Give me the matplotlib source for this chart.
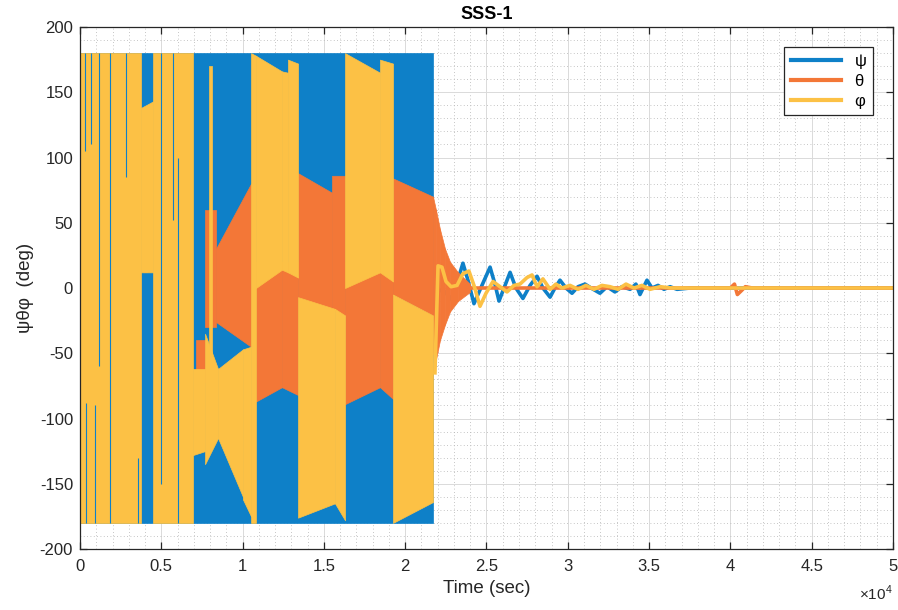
import matplotlib
matplotlib.use("Agg")
from matplotlib import pyplot as plt
from matplotlib.lines import Line2D
import numpy as np

plt.rcParams["font.family"] = ["Liberation Sans", "DejaVu Sans"]
plt.rcParams["mathtext.fontset"] = "custom"
plt.rcParams["mathtext.rm"] = "Liberation Sans"
plt.rcParams["axes.unicode_minus"] = False

# dense (aliased) part of the run: filled bands (t_start, t_end, lo_start, lo_end, hi_start, hi_end)
psi_bands = [
    (0, 21710, -180, -180, 180, 180),
]
theta_bands = [
    (3960, 4150, 12, 12, 35, 35),
    (7130, 7690, -72, -72, -40, -40),
    (7690, 8360, -30, -30, 60, 60),
    (8360, 10520, -26, -45, 30, 80),
    (10820, 12420, -87, -76, 20, 20),
    (12420, 13410, -76, -82, 20, 20),
    (13410, 15500, -7, -16, 88, 73),
    (15500, 16300, -16, -21, 86, 86),
    (16300, 18450, -89, -76, 20, 20),
    (18450, 19250, -76, -85, 20, 20),
    (19250, 21710, -5, -21, 84, 70),
    (21710, 21890, -50, -55, 70, 60),
    (21890, 22140, -55, -40, 60, 45),
    (22140, 22450, -40, -28, 45, 30),
    (22450, 22760, -28, -18, 30, 20),
    (22760, 23250, -18, -10, 20, 12),
    (23250, 23990, -10, -3, 12, 3),
]
phi_bands = [
    (0, 3750, -180, -180, 180, 180),
    (3750, 4490, 12, 12, 138, 143),
    (4490, 6950, -180, -180, 180, 180),
    (6950, 7690, -128, -125, -62, -62),
    (7690, 8490, -135, -115, -35, -62),
    (7930, 8120, -100, -100, 170, 170),
    (8490, 10020, -115, -160, -62, -47),
    (10020, 10520, -162, -175, -47, -45),
    (10520, 10820, -180, -180, 180, 178),
    (10820, 12420, 0, 14, 178, 166),
    (12420, 12790, 14, 12, 166, 165),
    (12790, 13410, 12, 8, 175, 172),
    (13410, 15680, -176, -165, -7, -16),
    (15680, 16300, -165, -178, -16, -21),
    (16300, 18450, 0, 12, 180, 165),
    (18450, 19250, 12, 5, 175, 172),
    (19250, 21710, -180, -164, -5, -21),
]
# thin psi streaks showing through the phi bands (t, lo, hi)
psi_streaks = [
    (310, 105, 180), (370, -180, -88), (680, 110, 180), (920, -180, -90),
    (1170, -60, 180), (1850, -180, 180), (2830, 85, 180), (3570, -180, -130),
    (4980, -150, 180), (5720, 52, 180), (6030, -180, 100),
]

# settling part: plain lines
psi_t = [21710, 22450, 22880, 23190, 23550, 23860, 24230, 24720, 25220, 25520, 25770,
         26140, 26450, 26810, 27240, 27680, 28110, 28470, 28910, 29210, 29520, 29890,
         30260, 30630, 31060, 31430, 31980, 32410, 32900, 33330, 33830, 34190, 34440,
         34870, 35180, 35550, 35920, 36290, 36720, 37520, 50000]
psi_v = [0, -3, -9, 4, 19, 6, -12, 2, 16, 3, -10,
         2, 12, 0, -8, 2, 9, 0, -7, 0, 6, 0,
         -4, 1, 3, 0, -4, 1, -3, 1, -1, 3, -5,
         6, 0, 2, -1, 1, -1, 0, 0]
theta_t = [23990, 40000, 40250, 40430, 40680, 40920, 41350, 50000]
theta_v = [0, 0, 3, -5, -2, 1, 0, 0]
phi_t = [21830, 22020, 22260, 22510, 22820, 23190, 23550, 23920, 24230, 24600, 24970,
         25400, 25830, 26260, 26690, 27060, 27490, 27800, 28110, 28470, 28910, 29270,
         29640, 30140, 30630, 31120, 31610, 32100, 32600, 33090, 33580, 34070, 34560,
         35060, 35670, 36410, 50000]
phi_v = [-65, 17, 16, 5, 1, 2, 11, 13, 2, -14, -4,
         5, 1, -3, 2, 3, 8, 10, 1, 7, -1, 3,
         0, 2, -1, 2, -1, 2, 1, -1, 3, 0, 2,
         -1, 1, 0, 0]

c_psi = "#0E80C8"
c_theta = "#F37737"
c_phi = "#FCC145"

fig = plt.figure(figsize=(8.98, 6.10), dpi=100)
ax = fig.add_axes([0.0891, 0.1, 0.9053, 0.8557])


def draw_bands(bands, color):
    for t0, t1, lo0, lo1, hi0, hi1 in bands:
        ax.fill_between([t0, t1], [lo0, lo1], [hi0, hi1], facecolor=color,
                        edgecolor=color, lw=0.5, zorder=2)


draw_bands(psi_bands, c_psi)
ax.plot(psi_t, psi_v, color=c_psi, lw=2.6, zorder=2, solid_joinstyle="round")
draw_bands(theta_bands, c_theta)
ax.plot(theta_t, theta_v, color=c_theta, lw=2.6, zorder=2)
draw_bands(phi_bands, c_phi)
ax.plot(phi_t, phi_v, color=c_phi, lw=2.6, zorder=2, solid_joinstyle="round")
ax.vlines([s[0] for s in psi_streaks], [s[1] for s in psi_streaks],
          [s[2] for s in psi_streaks], color=c_psi, lw=0.8, zorder=2)

ax.set_xlim(0, 50000)
ax.set_ylim(-200, 200)
ax.set_xticks(np.arange(0, 50001, 5000))
ax.set_xticklabels(["0", "0.5", "1", "1.5", "2", "2.5", "3", "3.5", "4", "4.5", "5"])
ax.set_yticks(np.arange(-200, 201, 50))
ax.set_xticks(np.arange(0, 50001, 1000), minor=True)
ax.set_yticks(np.arange(-200, 201, 10), minor=True)

ax.set_axisbelow(True)
ax.grid(which="major", color="#dadada", lw=0.7, ls="-")
ax.grid(which="minor", color="#b3b3b3", lw=0.6, ls=(0, (1, 3)))

for s in ax.spines.values():
    s.set_color("#262626")
    s.set_linewidth(0.9)
ax.tick_params(which="major", direction="in", top=True, right=True, length=5,
               width=0.9, color="#262626", labelcolor="#262626", labelsize=12)
ax.tick_params(axis="x", pad=7)
ax.tick_params(axis="y", pad=5)
ax.tick_params(which="minor", length=0)

ax.set_title("SSS-1", fontsize=13, fontweight="bold", color="black", pad=6)
ax.set_xlabel("Time (sec)", fontsize=13.5, color="#262626")
ax.xaxis.set_label_coords(0.5, -0.06)
ax.set_ylabel("ψθφ  (deg)", fontsize=13.5, color="#262626", labelpad=4)
ax.text(1.0, -0.098, r"$\times10^{4}$", transform=ax.transAxes, ha="right",
        va="baseline", fontsize=11, color="#262626")

handles = [Line2D([], [], color=c_psi, lw=3),
           Line2D([], [], color=c_theta, lw=3),
           Line2D([], [], color=c_phi, lw=3)]
leg = ax.legend(handles, ["ψ", "θ", "φ"], loc="upper right", fontsize=12,
                handlelength=3.0, labelspacing=0.3, borderaxespad=1.2,
                fancybox=False, framealpha=1, edgecolor="#262626")
leg.get_frame().set_linewidth(0.9)

fig.savefig("out.png", dpi=100)
